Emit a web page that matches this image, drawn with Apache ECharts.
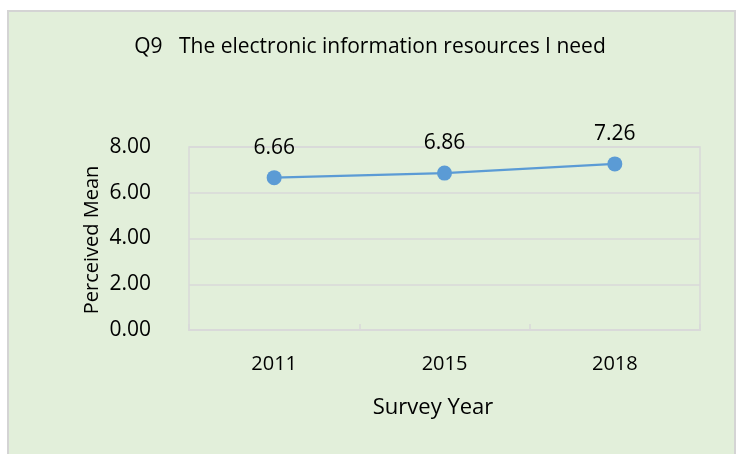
<!DOCTYPE html>
<html>
<head>
<meta charset="utf-8">
<script src="https://cdn.jsdelivr.net/npm/echarts@6/dist/echarts.min.js"></script>
<style>
html,body{margin:0;padding:0;background:#ffffff;}
#chart{width:739px;height:454px;}
</style>
</head>
<body>
<div id="chart"></div>
<script>
var categories = ['2011', '2015', '2018'];
var perceivedMean = [6.66, 6.86, 7.26];
var yTicks = [0, 2, 4, 6, 8];

var FONT = 'Open Sans';
var chart = echarts.init(document.getElementById('chart'), null, {renderer: 'canvas'});
chart.setOption({
  backgroundColor: '#ffffff',
  animation: false,
  textStyle: {fontFamily: FONT},
  graphic: [
    {type: 'rect', z: -10, silent: true,
     shape: {x: 8, y: 11, width: 727, height: 452},
     style: {fill: '#e2efda', stroke: '#d4d4d4', lineWidth: 2}},
    {type: 'text', z: 10, silent: true,
     style: {text: 'Q9   The electronic information resources I need', x: 370, y: 47,
             align: 'center', verticalAlign: 'middle', fill: '#000000',
             font: '21px "Open Sans"'}},
    {type: 'text', z: 10, silent: true,
     style: {text: 'Survey Year', x: 433, y: 408, align: 'center', verticalAlign: 'middle',
             fill: '#000000', font: '22px "Open Sans"'}},
    {type: 'text', z: 10, silent: true, rotation: Math.PI / 2, x: 92, y: 240,
     style: {text: 'Perceived Mean', x: 0, y: 0, align: 'center', verticalAlign: 'middle',
             fill: '#000000', font: '20px "Open Sans"'}}
  ],
  grid: {left: 189, right: 39, top: 147, bottom: 124, show: true,
         borderColor: '#d9d9d9', borderWidth: 1.5, backgroundColor: 'transparent'},
  xAxis: {
    type: 'category', data: categories, boundaryGap: true,
    axisLine: {show: true, lineStyle: {color: '#d9d9d9', width: 2}},
    axisTick: {show: true, inside: true, length: 6, lineStyle: {color: '#d9d9d9', width: 1.5}},
    axisLabel: {color: '#000000', fontSize: 20, margin: 24, fontFamily: FONT}
  },
  yAxis: {
    type: 'value', min: yTicks[0], max: yTicks[yTicks.length - 1], interval: 2,
    axisLine: {show: false}, axisTick: {show: false},
    splitLine: {show: true, lineStyle: {color: '#d9d9d9', width: 1.5}},
    axisLabel: {color: '#000000', fontSize: 21, margin: 38, fontFamily: FONT,
                formatter: function (v) { return v.toFixed(2); }}
  },
  series: [{
    type: 'line', data: perceivedMean,
    symbol: 'circle', symbolSize: 15,
    lineStyle: {color: '#5b9bd5', width: 2.25},
    itemStyle: {color: '#5b9bd5'},
    label: {show: true, position: 'top', distance: 12, color: '#000000', fontSize: 21,
            fontFamily: FONT, formatter: function (p) { return p.value.toFixed(2); }}
  }]
});
</script>
</body>
</html>
